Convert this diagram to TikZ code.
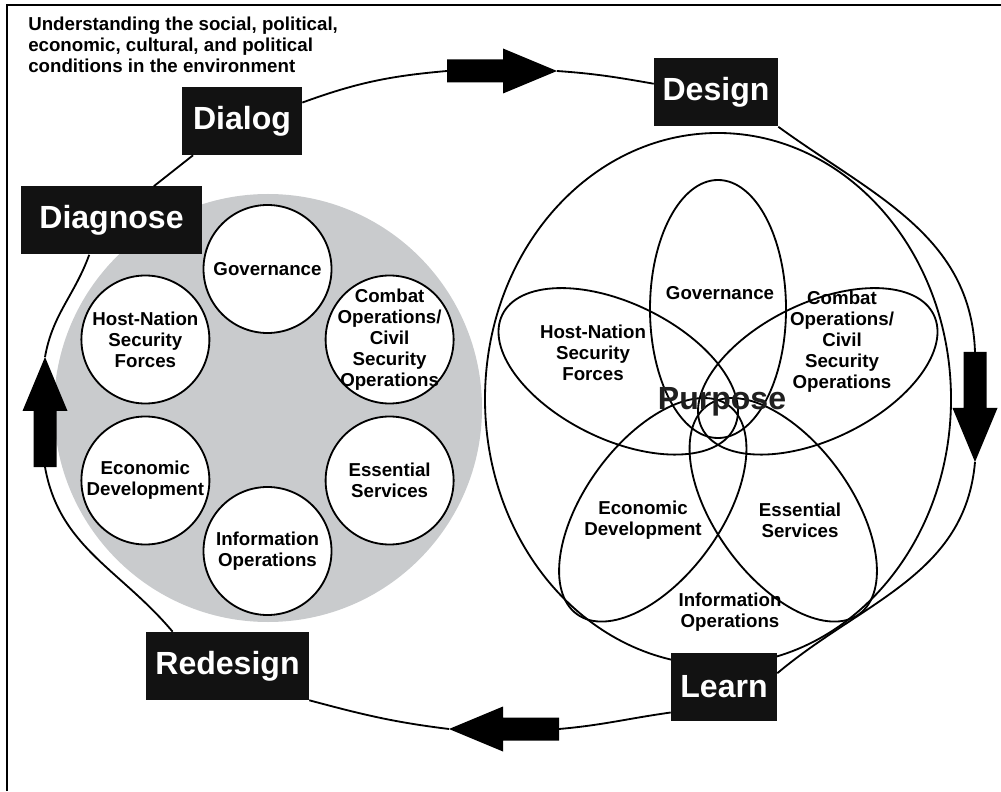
\documentclass[tikz,border=0pt]{standalone}
\usepackage{fontspec}
\setmainfont{Liberation Sans}
\usetikzlibrary{positioning}
\definecolor{discgray}{RGB}{201,203,205}
\tikzset{stage/.style = {fill=black!93, text=white, inner sep=0, minimum height=17mm,
    font=\fontsize{22.8}{26}\selectfont\bfseries}}
\tikzset{topic/.style = {align=center, inner sep=0, font=\fontsize{13.3}{14.9}\selectfont\bfseries}}
\tikzset{ring/.style = {draw, line width=1.3pt}}
\tikzset{loopline/.style = {line width=1.3pt}}
\tikzset{pics/flow/.style = {code = {
    \fill (0,-11.5) -- (56,-11.5) -- (56,-22.5) -- (110,0) -- (56,22.5) -- (56,11.5) -- (0,11.5) -- cycle;}}}

\begin{document}
\begin{tikzpicture}[x=0.25mm, y=0.25mm]
      \useasboundingbox (0,0) rectangle (1001,791);
      \draw[line width=2pt] (7,0) -- (7,786) -- (1001,786);
      \node[topic, align=left, anchor=north west] (intro) at (28,774)
        {Understanding the social, political,\\economic, cultural, and political\\conditions in the environment};

      % left disc
      \fill[discgray] (268,383) circle [radius=214];
      \begin{scope}[shift={(267.5,381)}]
        \foreach \a/\n/\t in {90/gov/Governance, 30/cso/{Combat\\Operations/\\Civil\\Security\\Operations},
                             -30/ess/{Essential\\Services}, -90/info/{Information\\Operations},
                             210/econ/{Economic\\Development}, 150/hns/{Host-Nation\\Security\\Forces}} {
          \draw[ring, fill=white] (\a:141) circle [radius=64];
          \node[topic] (\n) at (\a:141) {\t};
        }
      \end{scope}

      % right flower
      \draw[ring] (718,392) ellipse [x radius=233, y radius=266];
      \begin{scope}[shift={(718,371)}]
        \foreach \a in {90, 26, 306, 234, 154} {
          \draw[ring, rotate=\a] (111,0) ellipse [x radius=129, y radius=68];
        }
      \end{scope}
      \node[topic] (pgov) at (720,498) {Governance};
      \node[topic] (pcso) at (842,449) {Combat\\Operations/\\Civil\\Security\\Operations};
      \node[topic] (phns) at (593,438) {Host-Nation\\Security\\Forces};
      \node[topic] (pecon) at (643,271) {Economic\\Development};
      \node[topic] (pess) at (800,271) {Essential\\Services};
      \node[topic] (pinfo) at (730,179) {Information\\Operations};
      \node[inner sep=0, text=black!88, font=\fontsize{22.8}{26}\selectfont\bfseries] (purpose) at (722,389) {Purpose};

      % stages
      \node[stage, minimum width=30mm] (dialog) at (242,670) {Dialog};
      \node[stage, minimum width=45.25mm] (diagnose) at (111.5,570.5) {Diagnose};
      \node[stage, minimum width=31mm] (design) at (716,698.5) {Design};
      \node[stage, minimum width=40.75mm] (redesign) at (227.5,125) {Redesign};
      \node[stage, minimum width=26.5mm] (learn) at (724,104.5) {Learn};

      % block arrows
      \pic at (447,720) {flow};
      \pic[rotate=-90] at (975,439) {flow};
      \pic[rotate=180] at (559,62) {flow};
      \pic[rotate=90] at (45,324) {flow};
      \coordinate (topTail) at (447,720);
      \coordinate (topTip) at (557,720);
      \coordinate (rightTail) at (975,439);
      \coordinate (rightTip) at (975,329);
      \coordinate (botTail) at (559,62);
      \coordinate (botTip) at (449,62);
      \coordinate (leftTail) at (45,324);
      \coordinate (leftTip) at (45,434);

      % the cycle
      \draw[loopline] (diagnose.39) -- (dialog.215);
      \draw[loopline] (dialog.17) to[out=20, in=185] (topTail);
      \draw[loopline] (topTip) to[out=-4, in=170] (design.172);
      \draw[loopline] (design.south east) to[out=-36, in=92] (rightTail);
      \draw[loopline] (rightTip) to[out=-95, in=40] (learn.14);
      \draw[loopline] (learn.206) to[out=188, in=5] (botTail);
      \draw[loopline] (botTip) to[out=173, in=-15] (redesign.south east);
      \draw[loopline] (redesign.148) to[out=130, in=-80] (leftTail);
      \draw[loopline] (leftTip) to[out=80, in=-110] (diagnose.237);
    \end{tikzpicture}
\end{document}
